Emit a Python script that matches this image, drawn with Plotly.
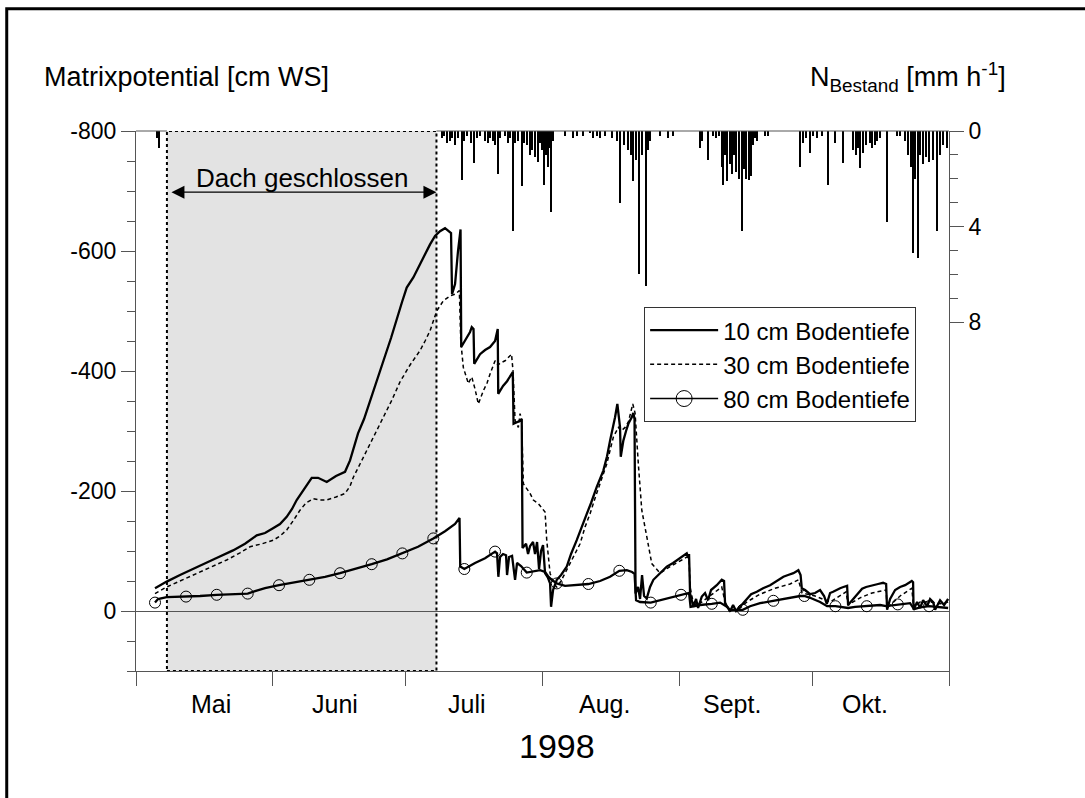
import pandas as pd
import plotly.graph_objects as go

# Tag ab 1. Mai 1998 (Bruchteile = Tageszeit) und Matrixpotential [cm WS]
tage_10 = [4.30, 6.95, 9.96, 14.49, 18.11, 21.96, 24.67, 27.32, 29.20, 31.01, 32.59, 34.11, 35.31, 36.37,
           37.80, 39.77, 41.20, 43.17, 45.27, 47.31, 48.44, 50.25, 51.61, 52.97, 54.78, 56.36, 57.72,
           59.01, 60.21, 61.27, 62.77, 64.28, 65.42, 66.55, 67.68, 68.81, 69.94, 70.85, 71.30, 71.53,
           72.21, 72.88, 73.45, 73.61, 74.47, 75.60, 75.99, 76.39, 76.55, 77.19, 77.86, 79.00, 80.13,
           81.26, 81.87, 81.98, 83.07, 83.98, 84.65, 85.27, 85.45, 86.24, 86.92, 87.30, 87.48, 88.28,
           88.73, 89.18, 89.86, 90.31, 90.77, 91.22, 91.67, 92.12, 92.58, 93.26, 93.71, 93.94, 94.39,
           95.23, 96.20, 97.49, 98.46, 99.75, 100.73, 102.02, 102.99, 104.28, 105.77, 106.61, 107.29,
           107.97, 108.42, 108.94, 109.21, 109.55, 109.71, 110.01, 110.30, 110.91, 111.43, 112.20,
           112.56, 112.83, 113.06, 113.63, 114.08, 114.53, 114.99, 115.60, 116.34, 117.09, 118.61,
           120.12, 121.55, 123.13, 124.65, 124.95, 125.17, 125.40, 126.15, 126.76, 127.21, 128.05,
           128.79, 129.47, 130.15, 131.44, 132.57, 133.09, 133.32, 134.00, 134.45, 135.13, 135.81,
           136.72, 137.62, 138.23, 139.21, 140.50, 141.92, 143.51, 145.09, 146.52, 147.58, 148.78,
           149.91, 150.41, 150.68, 151.43, 152.56, 153.69, 154.82, 155.73, 156.34, 157.09, 157.77,
           158.45, 159.35, 160.10, 160.94, 161.16, 162.07, 163.20, 164.33, 165.24, 166.53, 167.95,
           169.08, 169.77, 169.99, 170.67, 171.80, 172.93, 174.06, 175.58, 175.87, 175.99, 176.78,
           177.46, 178.14, 179.04, 179.72, 180.40, 180.85, 181.98, 182.89, 183.80]
psi_10 = [-38, -49, -60, -76, -88, -101, -112, -126, -130, -138, -145, -157, -170, -185,
          -201, -222, -222, -215, -225, -232, -251, -296, -320, -351, -390, -425, -455,
          -484, -515, -539, -556, -578, -595, -611, -625, -633, -638, -633, -630, -528,
          -545, -600, -636, -440, -450, -465, -473, -470, -412, -420, -428, -435, -440,
          -450, -470, -362, -375, -383, -390, -398, -312, -315, -317, -320, -105, -112,
          -95, -108, -115, -95, -115, -70, -100, -110, -63, -55, -46, -7, -35,
          -52, -60, -74, -95, -118, -138, -162, -180, -207, -234, -258, -284,
          -305, -323, -345, -330, -306, -257, -275, -284, -300, -312, -323,
          -330, -320, -29, -40, -20, -60, -25, -21, -40, -52, -63,
          -74, -80, -88, -96, -90, -95, -29, -7, -20, -5, -24,
          -30, -18, -35, -43, -52, -50, -13, -5, 1, -10, 0,
          -7, -15, -21, -28, -32, -38, -43, -50, -57, -60, -63,
          -68, -60, -38, -35, -28, -30, -35, -25, -12, -30, -32,
          -35, -38, -40, -42, -10, -18, -28, -37, -40, -43, -45,
          -47, -45, -2, -20, -35, -40, -43, -50, -48, -2, -15,
          -5, -18, -8, -20, -15, -2, -18, -10, -20]

tage_30 = [4.30, 6.95, 9.96, 13.74, 16.75, 20.53, 23.54, 25.80, 28.52, 31.08, 32.59, 34.11, 35.54,
           37.12, 38.48, 40.13, 41.65, 43.17, 45.27, 47.31, 48.44, 49.19, 50.70, 52.22, 53.64, 55.23,
           56.59, 57.88, 59.76, 62.02, 64.28, 65.42, 66.55, 68.06, 69.56, 71.07, 72.21, 73.18, 73.50,
           74.08, 74.70, 75.22, 75.60, 75.99, 76.73, 77.48, 78.61, 79.45, 80.13, 81.26, 81.94, 82.39,
           83.52, 84.65, 84.99, 85.33, 85.79, 86.53, 86.92, 87.26, 87.67, 89.18, 89.93, 91.06, 92.19,
           92.58, 92.96, 93.71, 94.46, 95.23, 96.20, 97.49, 98.91, 100.50, 101.63, 102.76, 103.89,
           105.03, 106.54, 107.29, 108.04, 109.17, 109.78, 110.69, 111.43, 112.43, 112.95, 113.69,
           114.47, 115.60, 116.73, 118.61, 120.87, 123.52, 124.65, 125.17, 125.40, 126.08, 126.76,
           128.05, 129.92, 131.44, 132.57, 133.32, 134.45, 136.72, 138.23, 141.24, 144.64, 148.03,
           149.91, 150.75, 153.69, 157.09, 160.71, 161.16, 163.88, 166.59, 169.77, 169.99, 172.93,
           175.58, 175.99, 177.46, 179.72, 181.98, 183.80]
psi_30 = [-29, -40, -50, -63, -73, -85, -97, -107, -112, -118, -125, -135, -150,
          -168, -180, -187, -185, -185, -190, -196, -208, -223, -245, -268, -290, -312,
          -332, -351, -382, -410, -434, -450, -467, -500, -517, -525, -528, -534, -450,
          -406, -390, -379, -385, -390, -370, -345, -367, -380, -395, -417, -410, -413,
          -417, -426, -428, -400, -318, -306, -329, -320, -212, -196, -185, -179, -168,
          -165, -118, -63, -46, -40, -50, -68, -88, -112, -140, -162, -188,
          -212, -245, -268, -290, -306, -300, -306, -315, -345, -330, -245,
          -168, -124, -79, -63, -74, -85, -90, -88, -40, -15, -10,
          -15, -25, -33, -40, -15, 0, -5, -15, -28, -38, -45,
          -52, -30, -25, -15, -32, -10, -22, -30, -35, -5, -25,
          -38, -5, -15, -15, -12, -15]

tage_80 = [4.30, 4.98, 6.95, 11.32, 14.49, 18.27, 21.73, 25.28, 26.94, 29.20, 32.37, 35.99, 39.23,
           42.78, 46.18, 49.80, 53.35, 56.81, 60.28, 63.83, 67.29, 69.94, 72.21, 73.22, 73.38, 74.31,
           76.73, 79.00, 81.26, 81.71, 82.01, 82.39, 83.07, 83.75, 83.98, 84.43, 85.11, 85.79, 86.24,
           87.14, 88.43, 89.86, 91.45, 92.58, 93.26, 94.09, 95.23, 97.10, 99.37, 102.38, 105.03,
           107.29, 109.39, 111.07, 112.27, 112.83, 113.18, 114.08, 116.50, 118.61, 120.87, 123.36,
           125.17, 125.51, 127.66, 130.31, 132.19, 133.55, 134.45, 137.33, 138.98, 141.24, 144.25,
           146.90, 149.17, 150.30, 151.27, 152.56, 154.82, 156.41, 158.29, 161.16, 162.75, 165.39,
           168.40, 169.77, 172.41, 175.19, 176.10, 177.46, 179.50, 181.98, 183.80]
psi_80 = [-14, -20, -23, -24, -25, -27, -28, -29, -33, -38, -43, -48, -52,
          -57, -63, -70, -78, -86, -96, -107, -121, -133, -145, -155, -74, -70,
          -80, -88, -99, -96, -57, -90, -95, -93, -60, -90, -92, -52, -80,
          -75, -64, -66, -68, -65, -58, -52, -46, -42, -43, -45, -50,
          -57, -67, -68, -65, -62, -18, -15, -14, -18, -22, -27,
          -30, -7, -10, -12, -14, -8, -2, -2, -8, -13, -17,
          -20, -23, -25, -25, -22, -15, -8, -8, -5, -7, -8,
          -10, -8, -11, -13, -3, -6, -8, -6, -5]

# Wöchentliche Symbolpunkte der 80-cm-Kurve
tage_80_sym = [4.30, 11.32, 18.27, 25.28, 32.37, 39.23, 46.18, 53.35, 60.28, 67.29, 74.31, 81.26, 88.43,
               95.23, 102.38, 109.39, 116.50, 123.36, 130.31, 137.33, 144.25, 151.27, 158.29, 165.39,
               172.41, 179.50]
psi_80_sym = [-14, -24, -27, -29, -43, -52, -63, -78, -96, -121, -70, -99, -64,
              -46, -45, -67, -14, -27, -12, -2, -17, -25, -8, -8,
              -11, -8]

# Bestandsniederschlag [mm/h]
tage_n = [4.75, 5.21, 69.26, 69.72, 70.40, 71.07, 71.53, 72.21, 72.88, 73.72, 74.24, 74.92, 75.83, 76.58,
          77.19, 77.86, 79.00, 79.68, 80.13, 80.81, 81.26, 81.87, 82.39, 83.52, 84.20, 84.65, 85.27,
          85.79, 86.47, 87.30, 87.82, 88.50, 89.18, 89.63, 90.31, 90.92, 91.45, 91.90, 92.42, 92.80,
          93.19, 93.48, 93.87, 94.39, 97.10, 98.91, 99.82, 101.18, 102.76, 103.44, 104.35, 105.03,
          106.16, 107.74, 108.87, 109.55, 110.46, 111.36, 112.04, 112.56, 113.18, 113.85, 114.53,
          115.37, 115.89, 116.34, 118.61, 120.42, 121.55, 127.66, 128.12, 129.47, 130.60, 131.28,
          131.96, 132.64, 132.93, 133.32, 133.77, 134.45, 134.90, 135.35, 135.81, 136.49, 137.24,
          137.62, 138.07, 138.82, 139.32, 139.66, 140.11, 140.56, 142.37, 143.05, 150.30, 150.98,
          151.66, 152.56, 153.24, 154.14, 155.27, 156.70, 158.22, 160.10, 162.29, 162.97, 163.42,
          163.88, 164.56, 165.24, 166.15, 166.59, 167.27, 167.73, 168.40, 169.92, 172.25, 172.93,
          174.06, 174.74, 175.42, 175.94, 176.33, 177.07, 177.46, 178.14, 178.82, 179.50, 180.40,
          181.37, 181.98, 182.66, 183.49]
n_bestand = [0.3, 0.7, 0.3, 0.2, 0.5, 0.4, 0.3, 0.6, 0.3, 2.05, 0.4, 0.2, 0.5, 1.35,
             0.3, 0.2, 0.4, 0.5, 0.3, 0.4, 0.6, 1.8, 0.3, 0.2, 0.5, 0.3, 4.2,
             0.5, 0.4, 2.3, 0.5, 0.6, 1.0, 0.8, 1.1, 1.3, 0.5, 0.8, 2.26, 1.0,
             1.5, 0.7, 3.4, 0.4, 0.2, 0.3, 0.2, 0.2, 0.1, 0.3, 0.2, 0.3,
             0.2, 0.3, 0.4, 3.0, 0.6, 0.8, 1.0, 2.1, 1.2, 6.0, 1.0,
             6.5, 0.8, 0.4, 0.2, 0.3, 0.2, 0.7, 0.4, 1.2, 0.2, 0.3,
             0.2, 1.5, 2.26, 1.0, 2.1, 1.4, 1.8, 1.0, 1.7, 2.0, 4.2,
             1.6, 2.0, 2.05, 1.9, 0.6, 0.3, 0.4, 0.2, 0.2, 1.5, 0.5,
             0.3, 0.9, 0.2, 0.3, 0.2, 2.26, 0.5, 1.35, 0.8, 1.0, 0.7,
             1.55, 0.9, 0.6, 0.5, 0.7, 0.6, 0.4, 0.3, 3.8, 0.2, 0.2,
             0.4, 1.0, 1.5, 5.1, 2.0, 5.3, 1.0, 1.4, 1.1, 1.3, 1.2,
             4.2, 1.0, 0.6, 0.7]

monate = ["Mai", "Juni", "Juli", "Aug.", "Sept.", "Okt."]
monatsanfang = ["1998-05-01", "1998-06-01", "1998-07-01", "1998-08-01", "1998-09-01", "1998-10-01", "1998-11-01"]
monatslabel_pos = ["1998-05-18", "1998-06-15", "1998-07-15", "1998-08-15", "1998-09-13", "1998-10-13"]
dach_zu, dach_auf = "1998-05-08", "1998-07-08"
psi_ticks = [-800, -600, -400, -200, 0]
n_ticks = [0, 4, 8]

START = pd.Timestamp("1998-05-01")


def to_dates(days):
    return START + pd.to_timedelta(days, unit="D")


FONT = "Liberation Sans, Arial, sans-serif"
AX = "#555555"

fig = go.Figure()

fig.add_trace(go.Bar(
    x=to_dates(tage_n), y=n_bestand, yaxis="y2", width=0.3 * 86400000,
    marker=dict(color="black", line=dict(width=0)), showlegend=False, hoverinfo="skip"))

fig.add_trace(go.Scatter(x=to_dates(tage_10), y=psi_10, mode="lines", name="10 cm Bodentiefe",
                         line=dict(color="black", width=2.3)))
fig.add_trace(go.Scatter(x=to_dates(tage_30), y=psi_30, mode="lines", name="30 cm Bodentiefe",
                         line=dict(color="black", width=1.5, dash="4px,3px")))
fig.add_trace(go.Scatter(x=to_dates(tage_80), y=psi_80, mode="lines", showlegend=False,
                         line=dict(color="black", width=2.3)))
fig.add_trace(go.Scatter(x=to_dates(tage_80_sym), y=psi_80_sym, mode="markers", showlegend=False,
                         marker=dict(symbol="circle-open", size=11, color="black", line=dict(width=1))))
# Legendeneintrag für die 80-cm-Kurve (Linie mit Kreis)
fig.add_trace(go.Scatter(x=[None], y=[None], mode="lines+markers", name="80 cm Bodentiefe",
                         line=dict(color="black", width=1.5),
                         marker=dict(symbol="circle-open", size=16, color="black", line=dict(width=1))))

shapes = [
    # Zeitraum mit geschlossenem Dach
    dict(type="rect", xref="x", yref="y", x0=dach_zu, x1=dach_auf, y0=100, y1=-800,
         fillcolor="#e3e3e3", line=dict(color="black", width=2, dash="dot"), layer="below"),
    # obere Rahmenlinie ausserhalb des Daches
    dict(type="line", xref="x", yref="paper", x0=monatsanfang[0], x1=dach_zu, y0=1, y1=1,
         line=dict(color=AX, width=1)),
    dict(type="line", xref="x", yref="paper", x0=dach_auf, x1=monatsanfang[-1], y0=1, y1=1,
         line=dict(color=AX, width=1)),
    # Bildrahmen
    dict(type="rect", xref="paper", yref="paper", x0=-0.159, x1=1.2, y0=-0.3, y1=1.2265,
         line=dict(color="black", width=3), fillcolor="rgba(0,0,0,0)"),
]

annotations = [
    dict(text="Matrixpotential [cm WS]", xref="paper", yref="paper", x=-0.1156, y=1.10,
         xanchor="left", yanchor="middle", showarrow=False, font=dict(size=27)),
    dict(text="N<sub>Bestand</sub> [mm h<sup>-1</sup>]", xref="paper", yref="paper", x=1.0726, y=1.10,
         xanchor="right", yanchor="middle", showarrow=False, font=dict(size=27)),
    dict(text="1998", xref="paper", yref="paper", x=0.518, y=-0.139,
         xanchor="center", yanchor="middle", showarrow=False, font=dict(size=34)),
    dict(text="Dach geschlossen", xref="x", yref="y", x="1998-06-07 12:00", y=-722,
         xanchor="center", yanchor="middle", showarrow=False, font=dict(size=26)),
    # Doppelpfeil über die Dachperiode
    dict(text=" ", xref="x", yref="y", x=dach_auf, y=-698, axref="x", ayref="y", ax=dach_zu, ay=-698,
         showarrow=True, arrowside="end+start", arrowhead=2, arrowsize=2.0, arrowwidth=1.3,
         arrowcolor="black", standoff=0, startstandoff=0),
]
for name, pos in zip(monate, monatslabel_pos):
    annotations.append(dict(text=name, xref="x", yref="paper", x=pos, y=-0.061,
                            xanchor="center", yanchor="middle", showarrow=False, font=dict(size=25)))

fig.update_layout(
    width=1085, height=798,
    margin=dict(l=136, r=136, t=131, b=127),
    paper_bgcolor="white", plot_bgcolor="white",
    font=dict(family=FONT, color="black", size=23),
    showlegend=True,
    legend=dict(x=0.625, y=0.674, xanchor="left", yanchor="top", bgcolor="white",
                bordercolor="#333333", borderwidth=1, font=dict(size=24), tracegroupgap=0,
                itemwidth=68),
    bargap=0,
    shapes=shapes,
    annotations=annotations,
    xaxis=dict(type="date", range=[monatsanfang[0], monatsanfang[-1]], tickvals=monatsanfang,
               showticklabels=False, ticks="outside", ticklen=14, tickcolor=AX,
               showline=True, linecolor=AX, linewidth=1, showgrid=False, zeroline=False),
    yaxis=dict(range=[100, -800], tickvals=psi_ticks, ticktext=[str(v) for v in psi_ticks],
               ticks="outside", ticklen=14, tickcolor=AX, showline=True, linecolor=AX,
               linewidth=1, showgrid=False, zeroline=True, zerolinecolor=AX, zerolinewidth=1,
               minor=dict(tickmode="linear", tick0=0, dtick=50, ticks="outside", ticklen=8,
                          tickcolor=AX, showgrid=False)),
    yaxis2=dict(overlaying="y", side="right", range=[22.6, 0], tickvals=n_ticks,
                ticktext=[str(v) for v in n_ticks], ticks="outside", ticklen=14, tickcolor=AX,
                showline=True, linecolor=AX, linewidth=1, showgrid=False, zeroline=False,
                minor=dict(tickmode="array", tickvals=[1, 2, 3, 5, 6, 7], ticks="outside",
                           ticklen=8, tickcolor=AX, showgrid=False)),
)

fig.write_html("out.html")
